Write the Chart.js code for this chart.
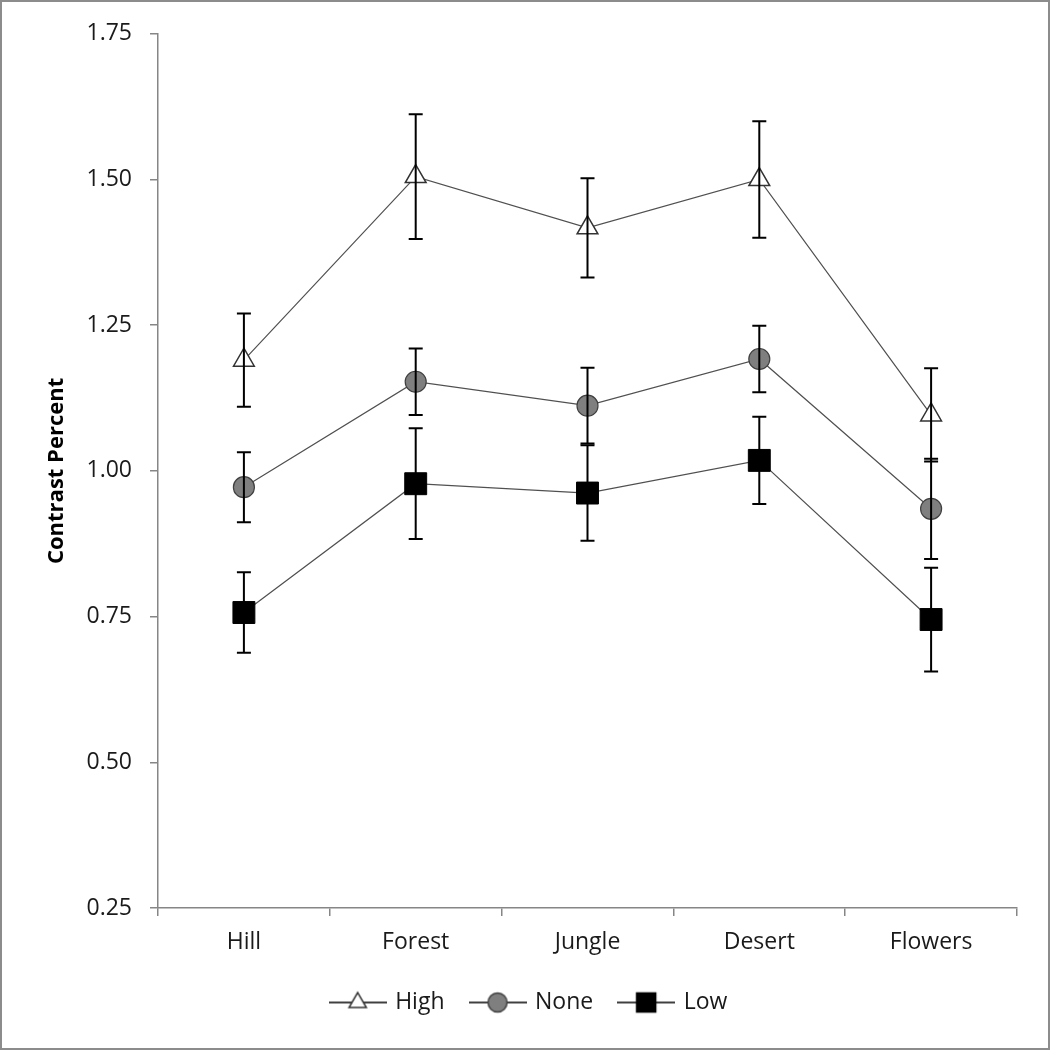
<!DOCTYPE html>
<html>
<head>
<meta charset="utf-8">
<script src="https://cdn.jsdelivr.net/npm/chart.js@4.4.0/dist/chart.umd.min.js"></script>
<style>
  html, body { margin: 0; padding: 0; background: #fff; }
  #frame { width: 1050px; height: 1050px; box-sizing: border-box; border: 2px solid #8c8c8c; }
  #chart { display: block; }
</style>
</head>
<body>
<div id="frame"><canvas id="chart" width="1046" height="1046"></canvas></div>
<script>
// categories and values
const categories = ['Hill', 'Forest', 'Jungle', 'Desert', 'Flowers'];

const highValues = [1.19, 1.505, 1.417, 1.50, 1.096];
const highErrors = [0.08, 0.107, 0.085, 0.10, 0.08];

const noneValues = [0.972, 1.153, 1.112, 1.192, 0.935];
const noneErrors = [0.06, 0.057, 0.065, 0.057, 0.086];

const lowValues = [0.757, 0.978, 0.962, 1.018, 0.745];
const lowErrors = [0.069, 0.095, 0.082, 0.075, 0.089];

const yTicks = [0.25, 0.50, 0.75, 1.00, 1.25, 1.50, 1.75];

const axisColor = '#868686';
const textColor = '#1a1a1a';

Chart.defaults.font.family = "'Open Sans', 'Lato', sans-serif";
Chart.defaults.color = textColor;

// legend icon: short line with the marker in the middle
function makeIcon(style, radius, fill, stroke) {
    const c = document.createElement('canvas');
    c.width = 58;
    c.height = 26;
    const g = c.getContext('2d');
    g.strokeStyle = '#000';
    g.lineWidth = 1.5;
    g.beginPath();
    g.moveTo(0, 13);
    g.lineTo(58, 13);
    g.stroke();
    g.fillStyle = fill;
    g.strokeStyle = stroke;
    g.lineWidth = 1.5;
    Chart.helpers.drawPoint(g, { pointStyle: style, radius: radius, borderWidth: 1.5, rotation: 0 }, 29, 13);
    return c;
}

const legendIcons = [
    makeIcon('triangle', 10, '#fff', '#333'),
    makeIcon('circle', 9.5, '#7f7f7f', '#404040'),
    makeIcon('rect', 13.5, '#000', '#000')
];

// error bars drawn with the chart's own scales
const errorBars = {
    id: 'errorBars',
    afterDatasetsDraw(chart) {
        const ctx = chart.ctx;
        const xs = chart.scales.x;
        const ys = chart.scales.y;
        ctx.save();
        ctx.strokeStyle = '#000';
        ctx.lineWidth = 2;
        chart.data.datasets.forEach(ds => {
            ds.data.forEach((v, j) => {
                const px = xs.getPixelForValue(j);
                const top = ys.getPixelForValue(v + ds.errors[j]);
                const bot = ys.getPixelForValue(v - ds.errors[j]);
                ctx.beginPath();
                ctx.moveTo(px, top);
                ctx.lineTo(px, bot);
                ctx.moveTo(px - 7, top);
                ctx.lineTo(px + 7, top);
                ctx.moveTo(px - 7, bot);
                ctx.lineTo(px + 7, bot);
                ctx.stroke();
            });
        });
        ctx.restore();
    }
};

new Chart(document.getElementById('chart'), {
    type: 'line',
    data: {
        labels: categories,
        datasets: [
            {
                label: 'High',
                data: highValues,
                errors: highErrors,
                borderColor: '#505050',
                borderWidth: 1.2,
                pointStyle: 'triangle',
                pointRadius: 12,
                pointBackgroundColor: '#fff',
                pointBorderColor: '#333',
                pointBorderWidth: 1.5
            },
            {
                label: 'None',
                data: noneValues,
                errors: noneErrors,
                borderColor: '#505050',
                borderWidth: 1.2,
                pointStyle: 'circle',
                pointRadius: 10.5,
                pointBackgroundColor: '#7f7f7f',
                pointBorderColor: '#404040',
                pointBorderWidth: 1.2
            },
            {
                label: 'Low',
                data: lowValues,
                errors: lowErrors,
                borderColor: '#505050',
                borderWidth: 1.2,
                pointStyle: 'rect',
                pointRadius: 15.5,
                pointBackgroundColor: '#000',
                pointBorderColor: '#000',
                pointBorderWidth: 1
            }
        ]
    },
    options: {
        responsive: false,
        animation: false,
        layout: { padding: { left: 40, right: 31, top: 31, bottom: 24 } },
        plugins: {
            tooltip: { enabled: false },
            legend: {
                position: 'bottom',
                labels: {
                    usePointStyle: true,
                    pointStyleWidth: 52,
                    padding: 27,
                    color: textColor,
                    font: { size: 23 },
                    generateLabels(chart) {
                        const items = Chart.defaults.plugins.legend.labels.generateLabels(chart);
                        items.forEach((it, i) => { it.pointStyle = legendIcons[i]; });
                        return items;
                    }
                }
            }
        },
        scales: {
            x: {
                offset: true,
                grid: { offset: true, drawOnChartArea: false, tickLength: 8, color: axisColor, lineWidth: 1.5 },
                border: { color: axisColor, width: 1.5 },
                ticks: { padding: 13, color: textColor, font: { size: 23 } },
                afterFit(scale) { scale.height = 56; }
            },
            y: {
                min: 0.25,
                max: 1.75,
                afterBuildTicks(scale) { scale.ticks = yTicks.map(v => ({ value: v })); },
                grid: { drawOnChartArea: false, tickLength: 8, color: axisColor, lineWidth: 1.5 },
                border: { color: axisColor, width: 1.5 },
                ticks: {
                    padding: 18,
                    color: textColor,
                    font: { size: 23 },
                    callback: v => Number(v).toFixed(2)
                },
                title: {
                    display: true,
                    text: 'Contrast Percent',
                    color: '#000',
                    font: { size: 22, weight: 'bold' },
                    padding: { top: 2, bottom: 0 }
                },
                afterFit(scale) { scale.width = 116; }
            }
        }
    },
    plugins: [errorBars]
});
</script>
</body>
</html>
